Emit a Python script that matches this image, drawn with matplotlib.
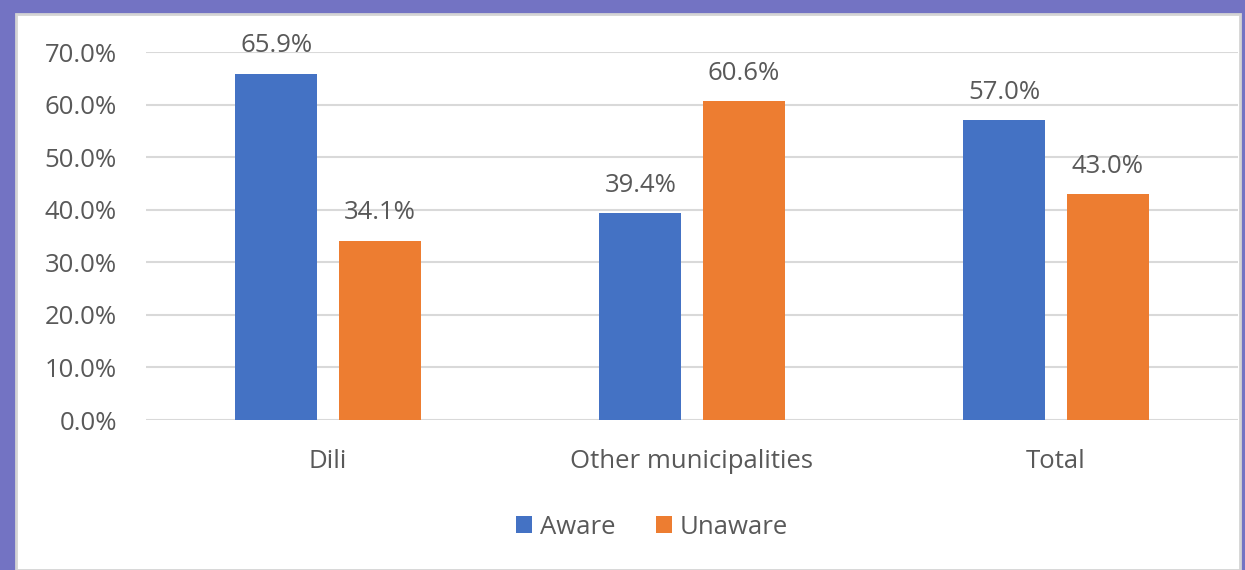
import numpy as np
import matplotlib.pyplot as plt
from matplotlib.patches import Rectangle
from matplotlib.ticker import FuncFormatter

categories = ['Dili', 'Other municipalities', 'Total']
series_names = ['Aware', 'Unaware']
aware = [65.9, 39.4, 57.0]
unaware = [34.1, 60.6, 43.0]
yticks = [0, 10, 20, 30, 40, 50, 60, 70]

plt.rcParams['font.family'] = ['Open Sans', 'DejaVu Sans']
txt_col = '#595959'
colors = ['#4472C4', '#ED7D31']

W, H = 1245, 570
fig = plt.figure(figsize=(W / 100, H / 100), dpi=100)
fig.patch.set_facecolor('#7373c3')

# white chart area on the purple slide
fig.patches.append(Rectangle((16 / W, 0), (1240 - 16) / W, (H - 14) / H,
                             transform=fig.transFigure, facecolor='white',
                             edgecolor='#d4d4d4', linewidth=2, zorder=-1))

ax = fig.add_axes([146 / W, 1 - 420 / H, (1238 - 146) / W, (420 - 52) / H])
ax.set_facecolor('none')
ax.set_zorder(1)

x = np.arange(len(categories))
bw = 0.225
off = 0.142
for vals, name, c, dx in [(aware, series_names[0], colors[0], -off),
                          (unaware, series_names[1], colors[1], off)]:
    bars = ax.bar(x + dx, vals, bw, color=c, label=name, zorder=3)
    for b, v in zip(bars, vals):
        ax.annotate(f'{v:.1f}%', (b.get_x() + b.get_width() / 2, v),
                    xytext=(0, 11), textcoords='offset points',
                    ha='center', va='bottom', fontsize=18.5, color=txt_col,
                    annotation_clip=False)

ax.set_xlim(-0.5, 2.5)
ax.set_ylim(0, 70)
ax.set_yticks(yticks)
ax.yaxis.set_major_formatter(FuncFormatter(lambda v, p: f'{v:.1f}%'))
ax.set_xticks(x)
ax.set_xticklabels(categories)
ax.tick_params(axis='both', length=0, labelsize=18.5, labelcolor=txt_col)
ax.tick_params(axis='y', pad=21)
ax.tick_params(axis='x', pad=21)
ax.grid(axis='y', color='#d9d9d9', linewidth=1.5, zorder=0)
for s in ax.spines.values():
    s.set_visible(False)

fig.legend(loc='center', bbox_to_anchor=(652 / W, 1 - 527 / H), ncol=2,
           frameon=False, fontsize=18.5, labelcolor=txt_col,
           handlelength=0.6, handleheight=0.6, handletextpad=0.3,
           columnspacing=1.6)

fig.savefig('out.png', dpi=100, facecolor=fig.get_facecolor())
